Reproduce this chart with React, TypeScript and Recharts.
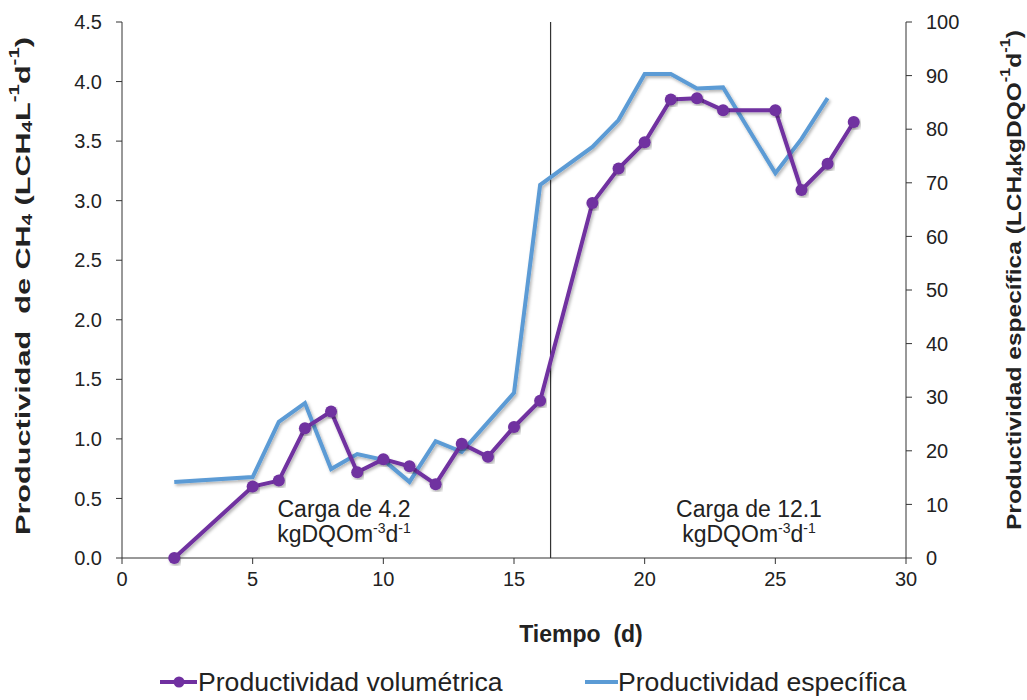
import React from 'react';
import { LineChart, Line, XAxis, YAxis, ReferenceLine } from 'recharts';

// Productividad volumétrica (LCH4 L-1 d-1), eje izquierdo
const volDays = [2, 5, 6, 7, 8, 9, 10, 11, 12, 13, 14, 15, 16, 18, 19, 20, 21, 22, 23, 25, 26, 27, 28];
const volValues = [0, 0.6, 0.65, 1.09, 1.23, 0.72, 0.83, 0.77, 0.62, 0.96, 0.85, 1.1, 1.32, 2.98, 3.27, 3.49, 3.85, 3.86, 3.76, 3.76, 3.09, 3.31, 3.66];

// Productividad específica (LCH4 kgDQO-1 d-1), eje derecho
const espDays = [2, 5, 6, 7, 8, 9, 10, 11, 12, 13, 15, 16, 18, 19, 20, 21, 22, 23, 25, 26, 27];
const espValues = [14.2, 15.1, 25.4, 28.9, 16.6, 19.4, 18.3, 14.2, 21.8, 19.8, 30.8, 69.6, 76.7, 81.7, 90.3, 90.3, 87.6, 87.8, 71.8, 78.2, 85.8];

const xTicks = [0, 5, 10, 15, 20, 25, 30];
const leftTicks = [0, 0.5, 1, 1.5, 2, 2.5, 3, 3.5, 4, 4.5];
const rightTicks = [0, 10, 20, 30, 40, 50, 60, 70, 80, 90, 100];
const loadChangeDay = 16.4;

const PURPLE = '#7030a0';
const BLUE = '#5b9bd5';
const INK = '#222';
const FONT = '"Liberation Sans", Arial, sans-serif';

const volData = volDays.map((day, i) => ({ day, vol: volValues[i] }));
const espData = espDays.map((day, i) => ({ day, esp: espValues[i] }));

const Sub = ({ children }: { children: React.ReactNode }) => (
    <>
        <tspan dy={5} fontSize={14}>{children}</tspan>
        <tspan dy={-5}>{'\u200b'}</tspan>
    </>
);
const Sup = ({ children }: { children: React.ReactNode }) => (
    <>
        <tspan dy={-8} fontSize={14}>{children}</tspan>
        <tspan dy={8}>{'\u200b'}</tspan>
    </>
);

// rotated titles are stretched along their length to span the full axis
const LeftTitle = (props: any) => {
    const vb = props.viewBox;
    const cx = vb.x - 20;
    const cy = vb.y + vb.height / 2 - 4;
    return (
        <text x={cx} y={cy} transform={`rotate(-90 ${cx} ${cy})`} textAnchor="middle" dominantBaseline="central"
            textLength={498} lengthAdjust="spacingAndGlyphs"
            fontFamily={FONT} fontWeight="bold" fontSize={21} fill={INK}>
            {'Productividad\u00a0 de CH'}<Sub>4</Sub>{' (LCH'}<Sub>4</Sub>{'L'}<Sup>-1</Sup>{'d'}<Sup>-1</Sup>{')'}
        </text>
    );
};

const RightTitle = (props: any) => {
    const vb = props.viewBox;
    const cx = vb.x + vb.width + 27;
    const cy = vb.y + vb.height / 2 - 10;
    return (
        <text x={cx} y={cy} transform={`rotate(-90 ${cx} ${cy})`} textAnchor="middle" dominantBaseline="central"
            textLength={500} lengthAdjust="spacingAndGlyphs"
            fontFamily={FONT} fontWeight="bold" fontSize={21} fill={INK}>
            {'Productividad específica (LCH'}<Sub>4</Sub>{'kgDQO'}<Sup>-1</Sup>{'d'}<Sup>-1</Sup>{')'}
        </text>
    );
};

const BottomTitle = (props: any) => {
    const vb = props.viewBox;
    return (
        <text x={vb.x + vb.width / 2 + 67} y={vb.y + 76} textAnchor="middle" dominantBaseline="central"
            fontFamily={FONT} fontWeight="bold" fontSize={23} fill={INK}>
            {'Tiempo\u00a0 (d)'}
        </text>
    );
};

const tickStyle = { fill: INK, fontSize: 20, fontFamily: FONT };

const supStyle = { fontSize: 14, lineHeight: 0 };

const Note = ({ left, top, value }: { left: number; top: number; value: string }) => (
    <div style={{ position: 'absolute', left, top, width: 200, marginLeft: -100, textAlign: 'center', fontFamily: FONT, fontSize: 23, lineHeight: '25px', color: INK }}>
        Carga de {value}
        <br />
        kgDQOm<sup style={supStyle}>-3</sup>d<sup style={supStyle}>-1</sup>
    </div>
);

export default function App() {
    return (
        <div style={{ position: 'relative', width: 1027, height: 700, background: '#fff' }}>
            <style>{'body{margin:0}'}</style>
            <LineChart width={1027} height={700} margin={{ top: 22, right: 41, bottom: 102, left: 42 }}>
                <defs>
                    <filter id="lineShadow" x="-5%" y="-5%" width="110%" height="115%">
                        <feDropShadow dx={1.5} dy={2} stdDeviation={1.5} floodColor="#000" floodOpacity={0.3} />
                    </filter>
                </defs>
                <XAxis
                    dataKey="day"
                    type="number"
                    domain={[0, 30]}
                    ticks={xTicks}
                    allowDuplicatedCategory={false}
                    height={40}
                    tickSize={6}
                    tickMargin={8}
                    stroke="#333"
                    tick={tickStyle}
                    label={<BottomTitle />}
                />
                <YAxis
                    yAxisId="left"
                    domain={[0, 4.5]}
                    ticks={leftTicks}
                    width={80}
                    tickSize={6}
                    tickMargin={14}
                    stroke="#333"
                    tick={tickStyle}
                    tickFormatter={(v: number) => v.toFixed(1)}
                    label={<LeftTitle />}
                />
                <YAxis
                    yAxisId="right"
                    orientation="right"
                    domain={[0, 100]}
                    ticks={rightTicks}
                    width={80}
                    tickSize={6}
                    tickMargin={14}
                    stroke="#333"
                    tick={tickStyle}
                    label={<RightTitle />}
                />
                <ReferenceLine yAxisId="left" x={loadChangeDay} stroke="#333" strokeWidth={1.2} />
                <Line
                    yAxisId="right"
                    data={espData}
                    dataKey="esp"
                    stroke={BLUE}
                    strokeWidth={4}
                    dot={false}
                    activeDot={false}
                    filter="url(#lineShadow)"
                    isAnimationActive={false}
                />
                <Line
                    yAxisId="left"
                    data={volData}
                    dataKey="vol"
                    stroke={PURPLE}
                    strokeWidth={4}
                    dot={{ r: 6, fill: PURPLE, stroke: PURPLE, strokeWidth: 0 }}
                    activeDot={false}
                    filter="url(#lineShadow)"
                    isAnimationActive={false}
                />
            </LineChart>
            <Note left={344} top={497} value="4.2" />
            <Note left={749} top={497} value="12.1" />
            <div style={{ position: 'absolute', top: 665, left: 0, width: 1027, height: 34, fontFamily: FONT, fontSize: 26.6, color: INK }}>
                <svg width={40} height={34} style={{ position: 'absolute', left: 158, top: 0 }}>
                    <line x1={2} y1={17} x2={39} y2={17} stroke={PURPLE} strokeWidth={4} />
                    <circle cx={21} cy={17} r={5.5} fill={PURPLE} />
                </svg>
                <span style={{ position: 'absolute', left: 198, top: 2 }}>Productividad volumétrica</span>
                <svg width={34} height={34} style={{ position: 'absolute', left: 584, top: 0 }}>
                    <line x1={1} y1={17} x2={34} y2={17} stroke={BLUE} strokeWidth={4} />
                </svg>
                <span style={{ position: 'absolute', left: 618, top: 2 }}>Productividad específica</span>
            </div>
        </div>
    );
}
